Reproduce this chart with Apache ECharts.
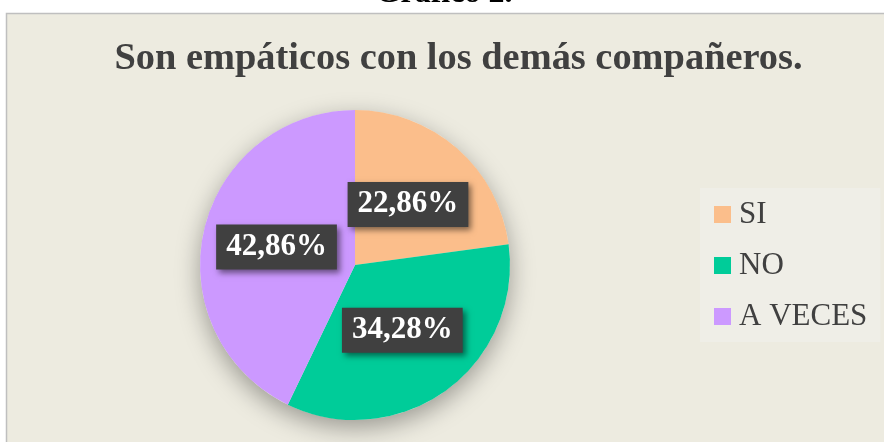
<!DOCTYPE html>
<html>
<head>
<meta charset="utf-8">
<script src="https://cdn.jsdelivr.net/npm/echarts@6/dist/echarts.min.js"></script>
<style>
  html, body { margin: 0; padding: 0; background: #fff; }
  #chart { width: 884px; height: 442px; }
</style>
</head>
<body>
<div id="chart"></div>
<script>
const categories = ['SI', 'NO', 'A VECES']
const values = [22.86, 34.28, 42.86]
const colors = ['#FBBE8B', '#00CC99', '#CC99FF']

const total = values.reduce((a, b) => a + b, 0)
const fmt = (v) => v.toFixed(2).replace('.', ',') + '%'

const chart = echarts.init(document.getElementById('chart'))
chart.setOption({
  backgroundColor: '#ffffff',
  animation: false,
  graphic: [
    {
      type: 'rect',
      z: -10,
      shape: { x: 6.5, y: 13.5, width: 900, height: 500 },
      style: { fill: '#EDEBE0', stroke: '#BFBFBF', lineWidth: 1.5 },
    },
    {
      type: 'text',
      x: 444,
      y: -6,
      style: {
        text: 'Gráfico 2.',
        font: 'bold 32px "Liberation Serif"',
        fill: '#000',
        align: 'center',
        verticalAlign: 'middle',
      },
    },
  ],
  title: {
    text: 'Son empáticos con los demás compañeros.',
    left: 453.5,
    textAlign: 'center',
    top: 35,
    textStyle: { fontFamily: 'Liberation Serif', fontWeight: 'bold', fontSize: 38.4, color: '#404040' },
  },
  legend: {
    orient: 'vertical',
    left: 700,
    top: 188,
    padding: [11, 13, 10, 14],
    backgroundColor: '#EFEEE7',
    icon: 'rect',
    itemWidth: 17,
    itemHeight: 17,
    itemGap: 20,
    data: categories,
    textStyle: { fontFamily: 'Liberation Serif', fontSize: 31, color: '#404040', padding: [0, 0, 0, 3] },
  },
  series: [
    {
      type: 'pie',
      silent: true,
      center: [355, 265],
      radius: 155,
      z: 1,
      label: { show: false },
      itemStyle: { color: '#EDEBE0', shadowBlur: 25, shadowColor: 'rgba(0,0,0,0.35)', shadowOffsetY: 8 },
      data: [{ value: total, name: '' }],
    },
    {
      type: 'pie',
      center: [355, 265],
      radius: 155,
      startAngle: 90,
      clockwise: true,
      z: 2,
      data: categories.map((c, i) => ({ name: c, value: values[i], itemStyle: { color: colors[i] } })),
      label: {
        show: true,
        position: 'inside',
        formatter: (p) => fmt(p.value),
        fontFamily: 'Liberation Serif',
        fontWeight: 'bold',
        fontSize: 31,
        color: '#fff',
        lineHeight: 33,
        backgroundColor: '#404040',
        padding: [6, 10],
        shadowBlur: 6,
        shadowColor: 'rgba(0,0,0,0.5)',
        shadowOffsetX: 3,
        shadowOffsetY: 3,
      },
      labelLine: { show: false },
    },
  ],
})
</script>
</body>
</html>
